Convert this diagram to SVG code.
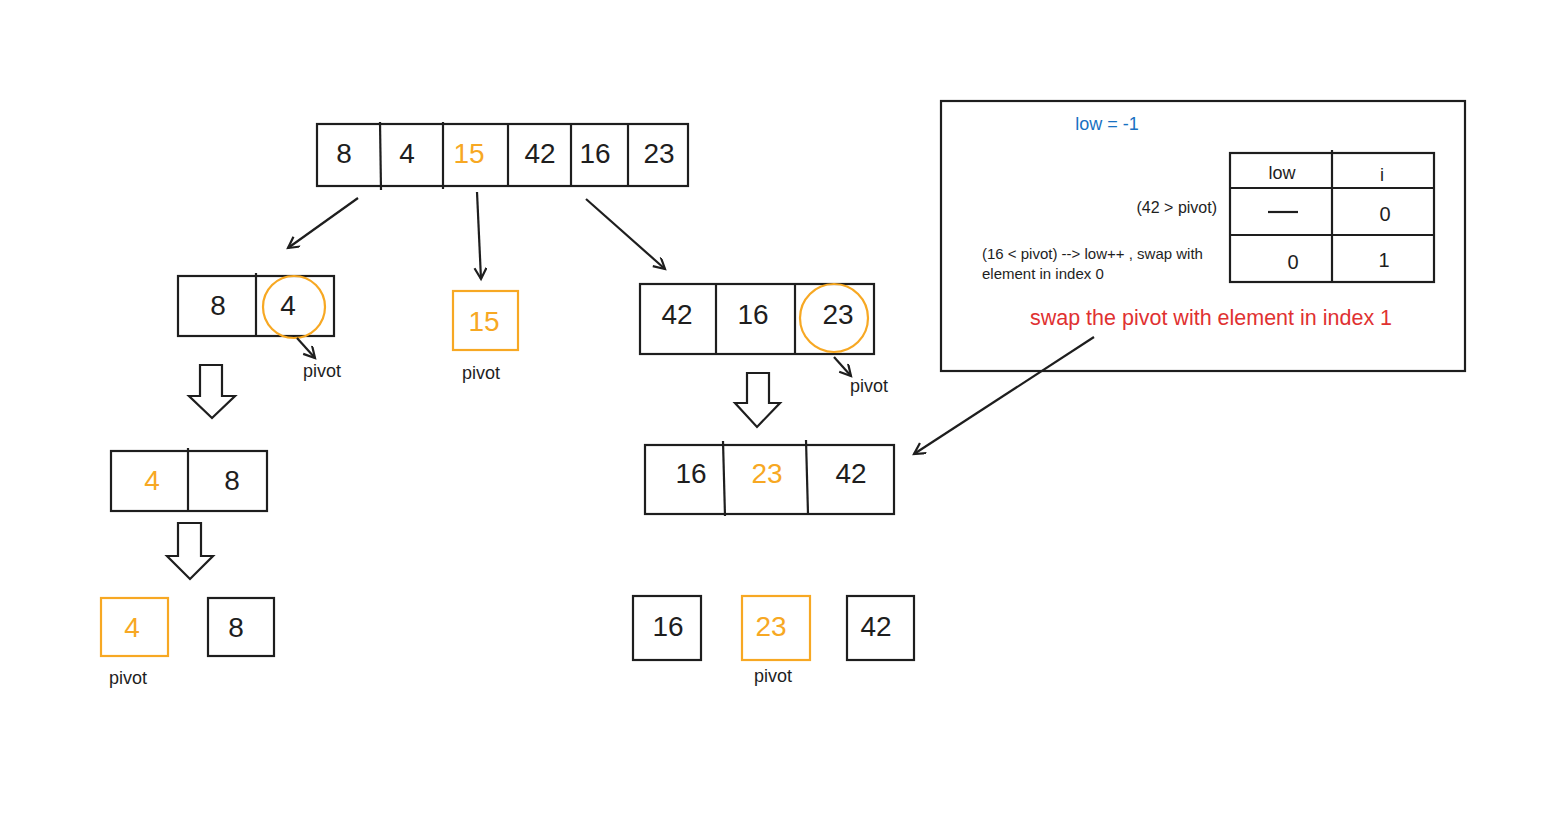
<svg xmlns="http://www.w3.org/2000/svg" width="1565" height="819" viewBox="0 0 1565 819">
<style>
.b{fill:none;stroke:#1e1e1e;stroke-width:2.2}
.o{fill:none;stroke:#f7a823;stroke-width:2.2}
.t{font-family:"Liberation Sans",Arial,sans-serif;font-size:28px;fill:#1e1e1e;text-anchor:middle;dominant-baseline:central}
.to{fill:#f7a823}
.s{font-family:"Liberation Sans",Arial,sans-serif;font-size:15px;fill:#1e1e1e}
.p{font-family:"Liberation Sans",Arial,sans-serif;font-size:18px;fill:#1e1e1e}
.c{stroke:#1e1e1e;stroke-width:2.2;fill:none}
</style>
<defs>
<marker id="ah" markerWidth="16" markerHeight="16" refX="12" refY="6" orient="auto" markerUnits="userSpaceOnUse">
<path d="M1,0 L12,6 L1,12" fill="none" stroke="#1e1e1e" stroke-width="2.2"/>
</marker>
</defs>
<rect width="1565" height="819" fill="#ffffff"/>

<g id="top-array">
<rect class="b" x="317" y="124" width="371" height="62"/>
<line class="b" x1="380" y1="122" x2="381" y2="190"/>
<line class="b" x1="443" y1="122" x2="443" y2="189"/>
<line class="b" x1="508" y1="124" x2="508" y2="187"/>
<line class="b" x1="571" y1="124" x2="571" y2="187"/>
<line class="b" x1="628" y1="124" x2="628" y2="187"/>
<text class="t" x="344" y="153">8</text>
<text class="t" x="407" y="153">4</text>
<text class="t to" x="469" y="153">15</text>
<text class="t" x="540" y="153">42</text>
<text class="t" x="595" y="153">16</text>
<text class="t" x="659" y="153">23</text>
</g>

<g id="left-array">
<rect class="b" x="178" y="276" width="156" height="60"/>
<line class="b" x1="256" y1="273" x2="256" y2="337"/>
<text class="t" x="218" y="305">8</text>
<text class="t" x="288" y="305">4</text>
<circle class="o" cx="294" cy="307" r="31"/>
<text class="p" x="303" y="377">pivot</text>
</g>

<g id="mid-15">
<rect class="o" x="453" y="291" width="65" height="59"/>
<text class="t to" x="484" y="321">15</text>
<text class="p" x="462" y="379">pivot</text>
</g>

<g id="right-array">
<rect class="b" x="640" y="284" width="234" height="70"/>
<line class="b" x1="716" y1="284" x2="716" y2="354"/>
<line class="b" x1="795" y1="284" x2="795" y2="354"/>
<text class="t" x="677" y="314">42</text>
<text class="t" x="753" y="314">16</text>
<text class="t" x="838" y="314">23</text>
<circle class="o" cx="834" cy="318" r="34"/>
<text class="p" x="850" y="392">pivot</text>
</g>

<g id="block-arrow-left">
<path class="b" d="M200,365 L222,365 L222,396 L235,396 L212,418 L189,396 L200,396 Z"/>
</g>
<g id="block-arrow-right">
<path class="b" d="M747,373 L769,373 L769,403 L780,403 L757,427 L735,403 L747,403 Z"/>
</g>
<g id="block-arrow-left2">
<path class="b" d="M178,523 L201,523 L201,556 L213,556 L190,579 L167,556 L178,556 Z"/>
</g>

<g id="array-4-8">
<rect class="b" x="111" y="451" width="156" height="60"/>
<line class="b" x1="188" y1="448" x2="188" y2="512"/>
<text class="t to" x="152" y="480">4</text>
<text class="t" x="232" y="480">8</text>
</g>

<g id="box-4">
<rect class="o" x="101" y="598" width="67" height="58"/>
<text class="t to" x="132" y="627">4</text>
<text class="p" x="109" y="684">pivot</text>
</g>
<g id="box-8">
<rect class="b" x="208" y="598" width="66" height="58"/>
<text class="t" x="236" y="627">8</text>
</g>

<g id="array-16-23-42">
<rect class="b" x="645" y="445" width="249" height="69"/>
<line class="b" x1="723" y1="441" x2="725" y2="516"/>
<line class="b" x1="806" y1="440" x2="808" y2="514"/>
<text class="t" x="691" y="473">16</text>
<text class="t to" x="767" y="473">23</text>
<text class="t" x="851" y="473">42</text>
</g>

<g id="box-16">
<rect class="b" x="633" y="596" width="68" height="64"/>
<text class="t" x="668" y="626">16</text>
</g>
<g id="box-23">
<rect class="o" x="742" y="596" width="68" height="64"/>
<text class="t to" x="771" y="626">23</text>
<text class="p" x="754" y="682">pivot</text>
</g>
<g id="box-42">
<rect class="b" x="847" y="596" width="67" height="64"/>
<text class="t" x="876" y="626">42</text>
</g>

<g id="note-box">
<rect class="b" x="941" y="101" width="524" height="270"/>
<text x="1107" y="124" font-family="Liberation Sans, Arial, sans-serif" font-size="18" fill="#1971c2" text-anchor="middle" dominant-baseline="central">low = -1</text>
<rect class="b" x="1230" y="153" width="204" height="129"/>
<line class="b" x1="1332" y1="150" x2="1332" y2="282"/>
<line class="b" x1="1230" y1="188" x2="1434" y2="188"/>
<line class="b" x1="1230" y1="235" x2="1434" y2="235"/>
<text class="t" x="1282" y="173" style="font-size:18px">low</text>
<text class="t" x="1382" y="175" style="font-size:18px">i</text>
<line class="b" x1="1268" y1="212" x2="1298" y2="212"/>
<text class="t" x="1385" y="214" style="font-size:20px">0</text>
<text class="t" x="1293" y="262" style="font-size:20px">0</text>
<text class="t" x="1384" y="260" style="font-size:20px">1</text>
<text class="s" x="1217" y="213" text-anchor="end" style="font-size:16px">(42 &gt; pivot)</text>
<text class="s" x="982" y="259">(16 &lt; pivot) --&gt; low++ , swap with</text>
<text class="s" x="982" y="279">element in index 0</text>
<text x="1211" y="318" font-family="Liberation Sans, Arial, sans-serif" font-size="21.5" fill="#e03131" text-anchor="middle" dominant-baseline="central">swap the pivot with element in index 1</text>
</g>

<g id="connectors">
<line class="c" x1="358" y1="198" x2="288" y2="248" marker-end="url(#ah)"/>
<line class="c" x1="477" y1="192" x2="481" y2="279" marker-end="url(#ah)"/>
<line class="c" x1="586" y1="199" x2="665" y2="269" marker-end="url(#ah)"/>
<line class="c" x1="297" y1="338" x2="315" y2="358" marker-end="url(#ah)"/>
<line class="c" x1="834" y1="357" x2="851" y2="376" marker-end="url(#ah)"/>
<line class="c" x1="1094" y1="337" x2="914" y2="454" marker-end="url(#ah)"/>
</g>
</svg>
